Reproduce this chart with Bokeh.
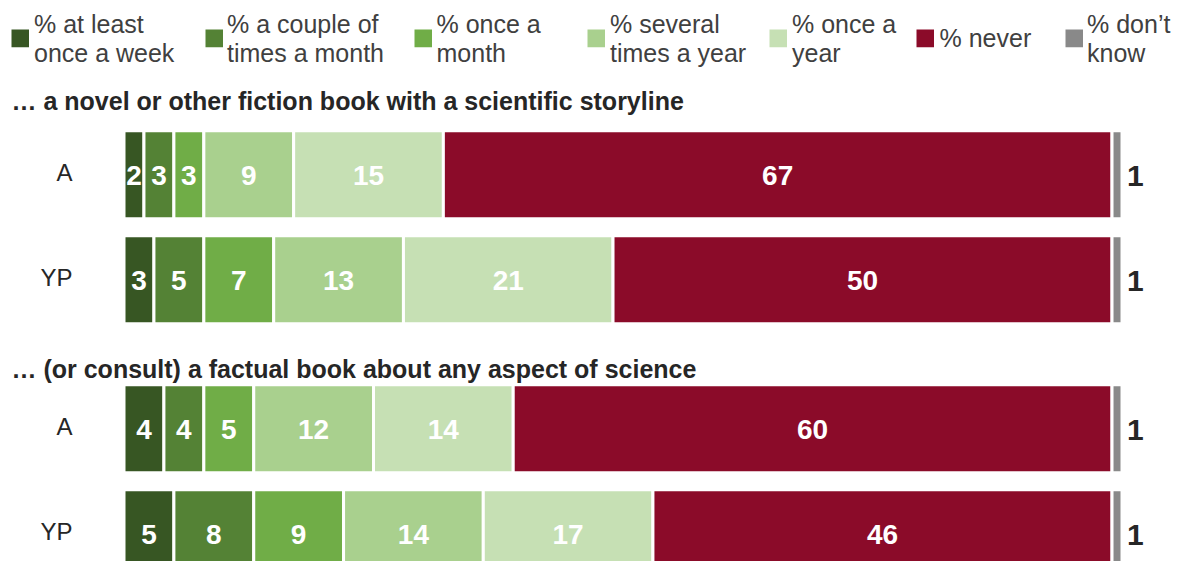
from bokeh.plotting import figure
from bokeh.models import Range1d, ColumnDataSource
from bokeh.core.properties import value
from bokeh.embed import file_html
from bokeh.resources import INLINE

# ---------------- data ----------------
categories = ["% at least\nonce a week", "% a couple of\ntimes a month", "% once a\nmonth",
              "% several\ntimes a year", "% once a\nyear", "% never", "% don\u2019t\nknow"]
sections = ["\u2026 a novel or other fiction book with a scientific storyline",
            "\u2026 (or consult) a factual book about any aspect of science"]
groups = ["A", "YP"]
novel_A = [2, 3, 3, 9, 15, 67, 1]
novel_YP = [3, 5, 7, 13, 21, 50, 1]
factual_A = [4, 4, 5, 12, 14, 60, 1]
factual_YP = [5, 8, 9, 14, 17, 46, 1]

# ---------------- style / layout ----------------
colors = ["#375623", "#548235", "#70AD47", "#A9D08E", "#C6E0B4", "#8B0B29", "#898989"]
FONT = "Liberation Sans"
W, H = 1171, 562
PX_PER_PCT = 9.98
ZERO_PX = 123.5
DY = -10  # text baseline correction
row_centers = [174.2, 279.2, 428.2, 533.3]
title_baselines = [110, 378]
bar_h = 88
legend_sq_x = [11, 205, 414, 587, 769, 916, 1065]
legend_txt_x = [33.5, 226.5, 436, 609.5, 791.5, 939, 1086.5]

rows = [(0, groups[0], novel_A), (0, groups[1], novel_YP),
        (1, groups[0], factual_A), (1, groups[1], factual_YP)]

x0 = -ZERO_PX / PX_PER_PCT
p = figure(width=W, height=H, output_backend="svg", toolbar_location=None,
           x_range=Range1d(x0, x0 + W / PX_PER_PCT), y_range=Range1d(H, 0),
           x_axis_location=None, y_axis_location=None, min_border=0)
p.extra_x_ranges = {"px": Range1d(0, W)}
p.grid.visible = False
p.outline_line_color = None
p.background_fill_color = "white"
p.border_fill_color = "white"

# bars
bl, br, by, bc, lx, ly, lt = [], [], [], [], [], [], []
dk_x, dk_y, dk_t = [], [], []
for i, (sec, grp, vals) in enumerate(rows):
    cum = 0
    yc = row_centers[i]
    for k, v in enumerate(vals):
        bl.append(cum); br.append(cum + v); by.append(yc); bc.append(colors[k])
        if k < len(vals) - 1:
            lx.append(cum + v / 2); ly.append(yc + 10.5 + DY); lt.append(str(v))
        else:
            dk_x.append(cum + v); dk_y.append(yc + 11 + DY); dk_t.append(str(v))
        cum += v

p.hbar(y="y", left="l", right="r", height=bar_h, fill_color="c", line_color="white", line_width=3,
       source=ColumnDataSource(dict(y=by, l=bl, r=br, c=bc)))
p.text(x="x", y="y", text="t", source=ColumnDataSource(dict(x=lx, y=ly, t=lt)),
       text_align="center", text_baseline="alphabetic", text_font=value(FONT),
       text_font_style="bold", text_font_size="28px", text_color="white")
p.text(x="x", y="y", text="t", source=ColumnDataSource(dict(x=dk_x, y=dk_y, t=dk_t)),
       x_offset=5, text_align="left", text_baseline="alphabetic", text_font=value(FONT),
       text_font_style="bold", text_font_size="30px", text_color="#262626")

# row labels
p.text(x=[72] * 4, y=[c + 8 + DY for c in row_centers], text=[r[1] for r in rows],
       x_range_name="px", text_align="right", text_baseline="alphabetic",
       text_font=value(FONT), text_font_size="24px", text_color="#262626")

# section titles
p.text(x=[11, 11], y=[b + DY for b in title_baselines], text=sections, x_range_name="px",
       text_align="left", text_baseline="alphabetic", text_font=value(FONT),
       text_font_style="bold", text_font_size="25px", text_color="#262626")

# legend
p.quad(left=legend_sq_x, right=[x + 17.5 for x in legend_sq_x], top=[29] * 7, bottom=[46.7] * 7,
       fill_color=colors, line_color=None, x_range_name="px")
tx, ty, tt = [], [], []
for k, lab in enumerate(categories):
    parts = lab.split("\n")
    if len(parts) == 2:
        tx += [legend_txt_x[k]] * 2; ty += [33 + DY, 62 + DY]; tt += parts
    else:
        tx.append(legend_txt_x[k]); ty.append(47 + DY); tt.append(parts[0])
p.text(x=tx, y=ty, text=tt, x_range_name="px", text_align="left", text_baseline="alphabetic",
       text_font=value(FONT), text_font_size="25px", text_color="#404040")

open("out.html", "w").write(file_html(p, INLINE))
